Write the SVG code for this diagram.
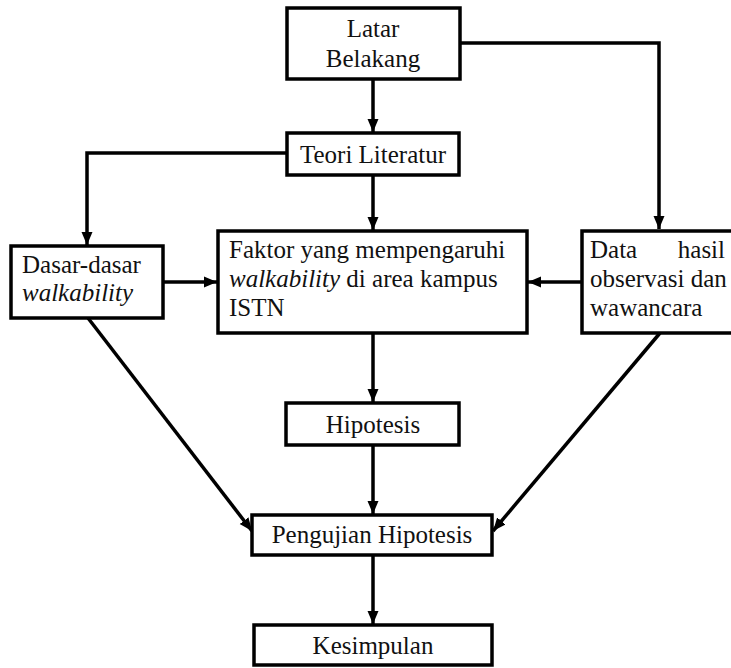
<svg xmlns="http://www.w3.org/2000/svg" width="731" height="668" viewBox="0 0 731 668">
<style>
.box{fill:#fff;stroke:#000;stroke-width:3.5}
.t{font-family:'Liberation Serif','Times New Roman',serif;font-size:25px;fill:#111}
.c{text-anchor:middle}
.i{font-style:italic}
.ln{fill:none;stroke:#000;stroke-width:3.5}
</style>
<defs>
<marker id="ah" markerUnits="userSpaceOnUse" markerWidth="14" markerHeight="14" viewBox="0 0 14 14" refX="13" refY="7" orient="auto">
<path d="M0,1.5 L13,7 L0,12.5 Z" fill="#000"/>
</marker>
</defs>
<rect width="731" height="668" fill="#fff"/>
<g id="connectors">
<line class="ln" x1="373" y1="79" x2="373" y2="132" marker-end="url(#ah)"/>
<polyline class="ln" points="460,43 659,43 659,229" marker-end="url(#ah)"/>
<polyline class="ln" points="287,153 87,153 87,245" marker-end="url(#ah)"/>
<line class="ln" x1="373" y1="175" x2="373" y2="230" marker-end="url(#ah)"/>
<line class="ln" x1="163" y1="282" x2="217" y2="282" marker-end="url(#ah)"/>
<line class="ln" x1="582" y1="282" x2="528" y2="282" marker-end="url(#ah)"/>
<line class="ln" x1="373" y1="333" x2="373" y2="402" marker-end="url(#ah)"/>
<line class="ln" x1="373" y1="445" x2="373" y2="514" marker-end="url(#ah)"/>
<line class="ln" x1="373" y1="555" x2="373" y2="624" marker-end="url(#ah)"/>
<line class="ln" x1="88" y1="318" x2="252" y2="531" marker-end="url(#ah)"/>
<line class="ln" x1="660" y1="333" x2="493" y2="531" marker-end="url(#ah)"/>
</g>
<g id="latar">
<rect class="box" x="287" y="8" width="173" height="71"/>
<text class="t c" x="373" y="37">Latar</text>
<text class="t c" x="373" y="67">Belakang</text>
</g>
<g id="teori">
<rect class="box" x="287" y="133" width="172" height="42"/>
<text class="t c" x="373" y="163">Teori Literatur</text>
</g>
<g id="dasar">
<rect class="box" x="11" y="246" width="152" height="72"/>
<text class="t" x="22" y="273">Dasar-dasar</text>
<text class="t i" x="22" y="301">walkability</text>
</g>
<g id="faktor">
<rect class="box" x="218" y="231" width="309" height="102"/>
<text class="t" x="229" y="258">Faktor yang mempengaruhi</text>
<text class="t" x="229" y="287"><tspan class="i">walkability</tspan> di area kampus</text>
<text class="t" x="229" y="316">ISTN</text>
</g>
<g id="data">
<rect class="box" x="582" y="231" width="160" height="102"/>
<text class="t" x="590" y="258">Data</text>
<text class="t" x="725" y="258" text-anchor="end">hasil</text>
<text class="t" x="590" y="287">observasi dan</text>
<text class="t" x="590" y="316">wawancara</text>
</g>
<g id="hipotesis">
<rect class="box" x="286" y="403" width="173" height="42"/>
<text class="t c" x="373" y="433">Hipotesis</text>
</g>
<g id="pengujian">
<rect class="box" x="252" y="515" width="240" height="40"/>
<text class="t c" x="372" y="543">Pengujian Hipotesis</text>
</g>
<g id="kesimpulan">
<rect class="box" x="254" y="625" width="238" height="40"/>
<text class="t c" x="373" y="654">Kesimpulan</text>
</g>
</svg>
